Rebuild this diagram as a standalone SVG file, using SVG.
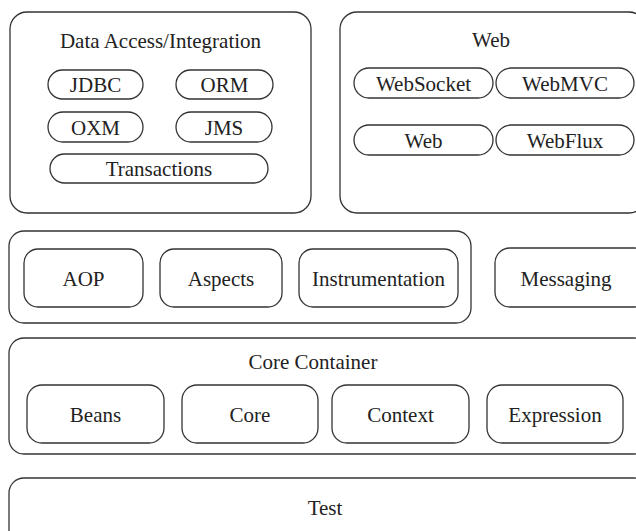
<svg xmlns="http://www.w3.org/2000/svg" width="636" height="531" viewBox="0 0 636 531">
<style>
rect{fill:none;stroke:#333;stroke-width:1.3}
text{font-family:"Liberation Serif","Times New Roman",serif;font-size:21px;fill:#222;text-anchor:middle}
.t{font-size:21px}
</style>
<rect x="0" y="0" width="636" height="531" style="fill:#fff;stroke:none"/>
<g font-family="Liberation Serif, Times New Roman, serif">
<g id="data-access">
<rect x="10" y="12" width="301" height="201" rx="17"/>
<text class="t" x="160.5" y="48">Data Access/Integration</text>
<g id="jdbc"><rect x="48" y="70" width="95" height="29" rx="14.5"/><text x="95.5" y="92">JDBC</text></g>
<g id="orm"><rect x="176" y="70" width="97" height="29" rx="14.5"/><text x="224.5" y="92">ORM</text></g>
<g id="oxm"><rect x="48" y="112" width="95" height="30" rx="15"/><text x="95.5" y="134.5">OXM</text></g>
<g id="jms"><rect x="176" y="112" width="96" height="30" rx="15"/><text x="224" y="134.5">JMS</text></g>
<g id="transactions"><rect x="50" y="154" width="218" height="29" rx="14.5"/><text x="159" y="176">Transactions</text></g>
</g>
<g id="web">
<rect x="340" y="12" width="306" height="201" rx="17"/>
<text class="t" x="491" y="47">Web</text>
<g id="websocket"><rect x="354" y="68" width="139" height="30" rx="15"/><text x="423.5" y="90.5">WebSocket</text></g>
<g id="webmvc"><rect x="496" y="68" width="138" height="30" rx="15"/><text x="565" y="90.5">WebMVC</text></g>
<g id="web-module"><rect x="354" y="125" width="139" height="30" rx="15"/><text x="423.5" y="147.5">Web</text></g>
<g id="webflux"><rect x="496" y="125" width="138" height="30" rx="15"/><text x="565" y="147.5">WebFlux</text></g>
</g>
<g id="aop-group">
<rect x="9" y="231" width="462" height="92" rx="15"/>
<g id="aop"><rect x="24" y="249" width="119" height="58" rx="14"/><text x="83.5" y="285.5">AOP</text></g>
<g id="aspects"><rect x="160" y="249" width="122" height="58" rx="14"/><text x="221" y="285.5">Aspects</text></g>
<g id="instrumentation"><rect x="299" y="249" width="159" height="58" rx="14"/><text x="378.5" y="285.5">Instrumentation</text></g>
</g>
<g id="messaging"><rect x="495" y="248" width="155" height="59" rx="15"/><text x="566" y="285.5">Messaging</text></g>
<g id="core-container">
<rect x="9" y="338" width="640" height="116" rx="15"/>
<text class="t" x="313" y="369">Core Container</text>
<g id="beans"><rect x="27" y="385" width="137" height="58" rx="15"/><text x="95.5" y="421.5">Beans</text></g>
<g id="core"><rect x="182" y="385" width="136" height="58" rx="15"/><text x="250" y="421.5">Core</text></g>
<g id="context"><rect x="332" y="385" width="137" height="58" rx="15"/><text x="400.5" y="421.5">Context</text></g>
<g id="expression"><rect x="487" y="385" width="136" height="58" rx="15"/><text x="555" y="421.5">Expression</text></g>
</g>
<g id="test"><rect x="9" y="478" width="640" height="70" rx="15"/><text x="325" y="515">Test</text></g>
</g>
<g id="connectors"></g>
</svg>
